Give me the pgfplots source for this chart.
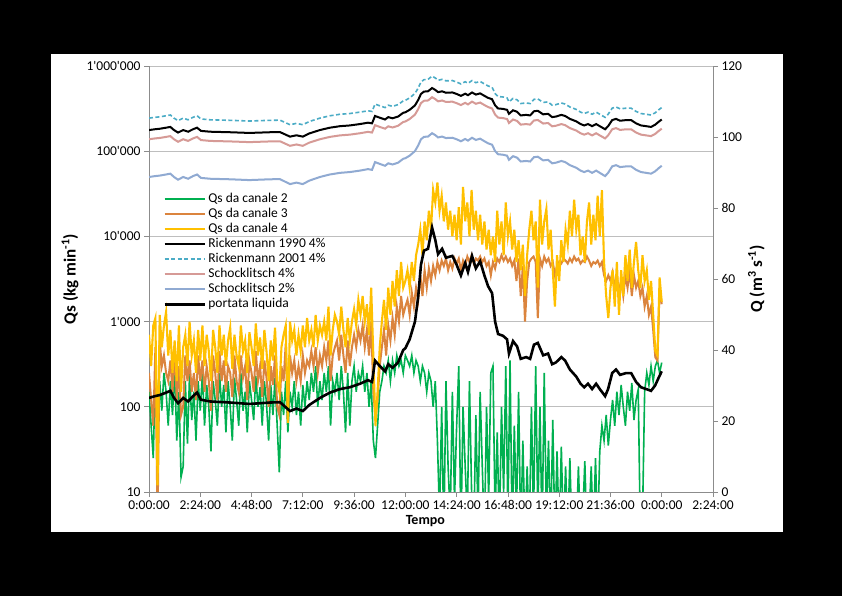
\documentclass[border=0pt]{standalone}
\usepackage{fontspec}
\setmainfont{Carlito}[Ligatures=TeXOff]
\usepackage{pgfplots}
\pgfplotsset{compat=1.18}
\usepackage{pgfplotstable}

\definecolor{cgreen}{HTML}{00B050}
\definecolor{corange}{HTML}{DB843D}
\definecolor{cgold}{HTML}{FFC000}
\definecolor{cteal}{HTML}{4BACC6}
\definecolor{crose}{HTML}{D69A96}
\definecolor{cblue}{HTML}{90AAD2}
\definecolor{cgrid}{HTML}{BEBEBE}
\definecolor{caxis}{HTML}{8C8C8C}

\newcommand\ticksfont{\fontsize{13.5bp}{16bp}\selectfont}
\newcommand\labfont{\fontsize{17bp}{20bp}\selectfont\bfseries}

\pgfplotstableread{
h c2 c3 c4
0.0 150 250 700
0.1 60 120 300
0.2 25 60 900
0.3 300 500 1100
0.4 120 4 12
0.5 200 600 1200
0.6 90 300 500
0.7 250 400 900
0.8 150 250 1300
0.9 60 200 400
1.0 200 350 800
1.1 80 150 250
1.2 300 500 600
1.3 40 120 200
1.4 150 300 900
1.5 15 80 150
1.6 20 100 500
1.7 200 400 700
1.8 37 200 300
1.9 250 350 1000
2.0 70 150 400
2.1 150 250 600
2.2 40 120 250
2.3 200 400 800
2.4 90 200 350
2.5 250 350 900
2.6 60 150 300
2.7 180 300 700
2.8 100 200 450
2.9 30 90 200
3.0 200 400 800
3.1 120 250 500
3.2 60 120 250
3.3 250 450 900
3.4 100 200 400
3.5 180 350 700
3.6 50 150 300
3.7 200 300 600
3.8 100 250 850
3.9 40 130 280
4.0 220 400 700
4.1 120 200 400
4.2 60 150 300
4.3 250 400 900
4.4 90 220 450
4.5 150 300 600
4.6 50 120 250
4.7 200 350 750
4.8 120 250 500
4.9 70 150 300
5.0 230 450 950
5.1 100 200 400
5.2 170 300 650
5.3 60 130 280
5.4 200 350 800
5.5 110 220 450
5.6 40 100 200
5.7 180 300 600
5.8 80 180 350
5.9 220 400 850
6.0 60 100 200
6.1 17 80 150
6.2 150 300 500
6.3 80 200 700
6.4 200 550 900
6.5 50 70 65
6.6 150 400 1000
6.7 100 250 600
6.8 200 350 800
6.9 80 200 400
7.0 150 300 700
7.1 60 200 450
7.2 180 400 900
7.3 100 250 500
7.4 200 350 1100
7.5 120 300 600
7.6 250 450 800
7.7 150 300 500
7.8 300 500 1200
7.9 100 250 600
8.0 200 400 900
8.1 120 300 700
8.2 250 500 1000
8.3 150 350 600
8.4 300 600 1500
8.5 60 200 400
8.6 200 400 800
8.7 150 500 1200
8.8 250 600 1000
8.9 120 350 700
9.0 300 700 1500
9.1 150 400 800
9.2 50 250 500
9.3 250 600 1100
9.4 60 300 600
9.5 200 500 1000
9.6 300 700 1400
9.7 150 500 900
9.8 250 800 1800
9.9 200 600 1200
10.0 300 900 2000
10.1 150 500 1000
10.2 250 800 1600
10.3 100 400 700
10.4 200 1000 2500
10.5 40 150 400
10.6 25 75 60
10.7 60 120 150
10.8 150 300 500
10.9 200 500 1000
11.0 300 800 1800
11.1 250 400 800
11.2 350 900 2500
11.3 200 600 1200
11.4 350 1100 3000
11.5 250 700 1500
11.6 400 1500 4000
11.7 300 1000 2000
11.8 350 2000 5000
11.9 250 1200 2500
12.0 400 1500 3000
12.1 350 1800 4000
12.2 300 1200 2500
12.3 400 2200 5000
12.4 250 1500 3000
12.5 350 2500 6000
12.6 300 1800 8000
12.7 200 3500 12000
12.8 300 2000 6000
12.9 250 4000 15000
13.0 150 2500 9000
13.1 250 4200 20000
13.2 200 3000 12000
13.3 100 4500 35000
13.4 200 3500 25000
13.5 40 5000 43000
13.6 5 4000 20000
13.7 100 5200 30000
13.8 3 4500 15000
13.9 200 5500 25000
14.0 20 4000 12000
14.1 5 5000 20000
14.2 150 4200 10000
14.3 8 5500 18000
14.4 60 4800 9000
14.5 300 5500 22000
14.6 3 4000 8000
14.7 100 5200 38000
14.8 20 4500 15000
14.9 5 5800 25000
15.0 200 5000 10000
15.1 10 6000 35000
15.2 3 4800 12000
15.3 80 5500 20000
15.4 5 5200 9000
15.5 150 5800 18000
15.6 20 5000 8000
15.7 3 5500 15000
15.8 100 4500 7000
15.9 8 5000 12000
16.0 250 3500 6000
16.1 300 5000 10000
16.2 5 4200 5000
16.3 50 5500 20000
16.4 3 5000 8000
16.5 100 6000 15000
16.6 10 5200 6000
16.7 300 5800 25000
16.8 5 5000 10000
16.9 350 5500 15000
17.0 3 4500 7000
17.1 60 5200 12000
17.2 5 3000 5000
17.3 150 5500 9000
17.4 3 2000 4000
17.5 40 4500 8000
17.6 3 1000 2000
17.7 20 3000 6000
17.8 3 5000 12000
17.9 100 5500 20000
18.0 5 5800 9000
18.1 300 5000 15000
18.2 5 1100 2500
18.3 100 5500 27000
18.4 3 4500 8000
18.5 250 5800 15000
18.6 5 5000 21000
18.7 40 5500 7000
18.8 3 4500 12000
18.9 70 5000 4000
19.0 3 3500 1500
19.1 30 4500 6000
19.2 3 5000 3000
19.3 34 4800 9000
19.4 3 5500 5000
19.5 20 5200 12000
19.6 3 4800 8000
19.7 25 5500 20000
19.8 3 5000 10000
19.9 5 5800 27000
20.0 3 5200 12000
20.1 20 5500 18000
20.2 3 4800 6000
20.3 5 5200 10000
20.4 23 5000 5000
20.5 3 5800 15000
20.6 5 5200 25000
20.7 20 4500 8000
20.8 3 5000 18000
20.9 25 4800 9000
21.0 3 5200 30000
21.1 30 4500 10000
21.2 60 5000 35000
21.3 40 3500 5000
21.4 80 3000 2000
21.5 35 3500 1100
21.6 70 3000 2500
21.7 120 3800 4000
21.8 60 2500 1500
21.9 150 3500 5000
22.0 80 2200 1200
22.1 180 3000 4000
22.2 100 2000 2000
22.3 60 3500 6000
22.4 150 2500 3000
22.5 90 4000 7000
22.6 190 2000 2500
22.7 70 3500 5000
22.8 120 2500 8600
22.9 160 3000 4000
23.0 3 2000 2500
23.1 5 2500 6000
23.2 150 1500 3000
23.3 250 2000 4000
23.4 180 1200 1800
23.5 300 1500 3000
23.6 200 800 1200
23.7 300 380 450
23.8 350 350 400
23.9 250 2500 3300
24.0 330 1600 1700
}\noisy

\pgfplotstableread{
h Q R90 R01 S4 S2
0.00 26.5 177100 244400 138100 49800
0.28 27.0 181000 249700 141200 51000
0.50 27.3 183300 253000 143000 51700
0.80 28.0 188800 260500 147200 53300
1.00 28.5 192700 265900 150300 54500
1.17 26.5 177100 244400 138100 49800
1.36 25.0 165400 228200 129000 46300
1.60 26.5 177100 244400 138100 49800
1.83 25.5 169300 233600 132000 47500
2.06 27.0 181000 249700 141200 51000
2.25 28.0 188800 260500 147200 53300
2.43 26.0 173200 239000 135100 48600
2.86 25.5 169300 233600 132000 47500
3.80 25.2 166900 230300 130200 46800
4.70 24.8 163800 226000 127800 45800
5.66 25.2 166900 230300 130200 46800
6.13 25.3 167700 231400 130800 47000
6.60 22.8 148200 204500 115600 41100
6.90 23.5 153700 212100 119900 42800
7.20 22.8 148200 204500 115600 41100
7.50 24.5 161500 222900 126000 45100
8.00 26.5 177100 244400 138100 49800
8.47 28.0 188800 260500 147200 53300
8.94 29.0 196600 271300 153300 55700
9.40 29.5 200500 276700 156400 56900
9.88 30.5 208300 287500 162500 59200
10.25 31.5 216100 298200 168600 61600
10.44 31.0 212200 292800 165500 60400
10.58 37.0 259000 357400 202000 74500
10.80 35.5 247300 341300 192900 71000
11.05 34.0 235600 325100 183800 67400
11.20 36.0 251200 346600 195900 72100
11.40 35.0 243400 335900 189800 69800
11.66 36.5 255100 352000 199000 73300
11.90 40.0 282400 389700 220300 81500
12.00 40.5 286300 395100 223300 82700
12.20 43.0 305800 422000 238500 88600
12.45 48.0 344800 475800 268900 100300
12.60 55.0 399400 551200 311500 116800
12.73 64.0 469600 648000 366300 137900
12.87 68.0 500800 691100 390600 147300
13.06 68.5 504700 696500 393700 148500
13.25 74.5 551500 761100 430200 162600
13.40 71.0 524200 723400 408900 154400
13.53 67.0 493000 680300 384500 145000
13.72 68.5 504700 696500 393700 148500
13.90 66.0 485200 669600 378500 142600
14.20 66.5 489100 674900 381500 143800
14.40 64.0 469600 648000 366300 137900
14.60 61.0 446200 615700 348000 130900
14.80 64.5 473500 653400 369300 139100
14.93 62.0 454000 626500 354100 133200
15.12 66.5 489100 674900 381500 143800
15.30 63.0 461800 637300 360200 135600
15.50 65.0 477400 658800 372400 140300
15.70 61.0 446200 615700 348000 130900
15.87 58.0 422800 583500 329800 123800
16.06 56.0 407200 561900 317600 119100
16.20 48.0 344800 475800 268900 100300
16.34 44.5 317500 438200 247700 92100
16.57 44.0 313600 432800 244600 90900
16.76 43.0 305800 422000 238500 88600
16.85 39.0 274600 378900 214200 79200
17.04 42.5 301900 416600 235500 87400
17.23 41.0 290200 400500 226400 83900
17.40 37.5 262900 362800 205100 75700
17.65 38.0 266800 368200 208100 76800
17.84 37.5 262900 362800 205100 75700
18.02 41.5 294100 405900 229400 85100
18.20 42.0 298000 411200 232400 86200
18.45 38.5 270700 373600 211100 78000
18.68 39.0 274600 378900 214200 79200
18.87 36.0 251200 346600 195900 72100
19.05 36.5 255100 352000 199000 73300
19.30 38.0 266800 368200 208100 76800
19.48 37.0 259000 357400 202000 74500
19.70 34.5 239500 330500 186800 68600
20.00 32.5 223900 309000 174600 63900
20.20 30.5 208300 287500 162500 59200
20.37 29.5 200500 276700 156400 56900
20.55 30.5 208300 287500 162500 59200
20.74 29.0 196600 271300 153300 55700
20.93 30.5 208300 287500 162500 59200
21.10 29.0 196600 271300 153300 55700
21.35 27.0 181000 249700 141200 51000
21.49 29.0 196600 271300 153300 55700
21.68 33.5 231700 319700 180700 66300
21.86 34.5 239500 330500 186800 68600
22.05 33.0 227800 314300 177700 65100
22.33 33.5 231700 319700 180700 66300
22.57 33.5 231700 319700 180700 66300
22.80 31.0 212200 292800 165500 60400
23.03 29.5 200500 276700 156400 56900
23.27 29.0 196600 271300 153300 55700
23.50 28.5 192700 265900 150300 54500
23.69 30.0 204400 282000 159400 58000
23.88 32.5 223900 309000 174600 63900
24.00 34.0 235600 325100 183800 67400
}\flow

\begin{document}
\begin{tikzpicture}
\fill[black] (0bp,0bp) rectangle (842bp,596bp);
\fill[white] (51bp,64bp) rectangle (783bp,542bp);
\begin{axis}[
  at={(149bp,104bp)}, anchor=south west, scale only axis,
  width=564bp, height=426bp,
  xmin=0, xmax=26.4, ymode=log, ymin=10, ymax=1000000,
  axis x line*=bottom, axis y line*=left,
  axis line style={caxis, line width=0.8bp},
  xtick={0,2.4,4.8,7.2,9.6,12,14.4,16.8,19.2,21.6,24,26.4},
  xticklabels={0:00:00,2:24:00,4:48:00,7:12:00,9:36:00,12:00:00,14:24:00,16:48:00,19:12:00,21:36:00,0:00:00,2:24:00},
  ytick={10,100,1000,10000,100000,1000000},
  yticklabels={10,100,1'000,10'000,100'000,1'000'000},
  yminorticks=false,
  ymajorgrids, grid style={cgrid, line width=0.8bp},
  tick align=outside, major tick length=5bp,
  tick style={caxis, line width=0.8bp},
  ticklabel style={font=\ticksfont},
  xlabel={Tempo},
  xlabel style={font=\fontsize{14bp}{16bp}\selectfont\bfseries, at={(axis description cs:0.49,0)}, anchor=north, yshift=-20bp},
  ylabel={Qs (kg min\textsuperscript{-1})},
  ylabel style={font=\labfont, at={(axis description cs:-0.140,0.5)}, anchor=center},
  legend style={at={(0.025,0.703)}, anchor=north west, draw=none, fill=none,
    inner sep=0pt, font=\ticksfont, row sep=2bp, column sep=2bp,
    nodes={inner sep=0.5bp, text height=9bp, text depth=3bp}},
  legend cell align=left,
  legend image code/.code={\draw[#1] (0bp,0bp) -- (40bp,0bp);},
]
\addplot[cgreen, line width=1.6bp] table[x=h, y=c2] {\noisy};
\addlegendentry{Qs da canale 2}
\addplot[corange, line width=2bp] table[x=h, y=c3] {\noisy};
\addlegendentry{Qs da canale 3}
\addplot[cgold, line width=2.1bp] table[x=h, y=c4] {\noisy};
\addlegendentry{Qs da canale 4}
\addplot[black, line width=2bp] table[x=h, y=R90] {\flow};
\addlegendentry{Rickenmann 1990 4\%}
\addplot[cteal, line width=1.6bp, dash pattern=on 4bp off 2.5bp] table[x=h, y=R01] {\flow};
\addlegendentry{Rickenmann 2001 4\%}
\addplot[crose, line width=2bp] table[x=h, y=S4] {\flow};
\addlegendentry{Schocklitsch 4\%}
\addplot[cblue, line width=2bp] table[x=h, y=S2] {\flow};
\addlegendentry{Schocklitsch 2\%}
\addlegendimage{black, line width=2.6bp}
\addlegendentry{portata liquida}
\end{axis}
\begin{axis}[
  at={(149bp,104bp)}, anchor=south west, scale only axis,
  width=564bp, height=426bp,
  xmin=0, xmax=26.4, ymin=0, ymax=120,
  axis x line=none, axis y line*=right,
  axis line style={caxis, line width=0.8bp},
  ytick={0,20,40,60,80,100,120},
  tick align=outside, major tick length=5bp,
  tick style={caxis, line width=0.8bp},
  ticklabel style={font=\ticksfont},
  /pgf/number format/assume math mode=true,
  ylabel={Q (m\textsuperscript{3} s\textsuperscript{-1})},
  ylabel style={font=\labfont, at={(axis description cs:1.077,0.5)}, anchor=center},
]
\addplot[black, line width=2.6bp] table[x=h, y=Q] {\flow};
\end{axis}
\end{tikzpicture}
\end{document}
